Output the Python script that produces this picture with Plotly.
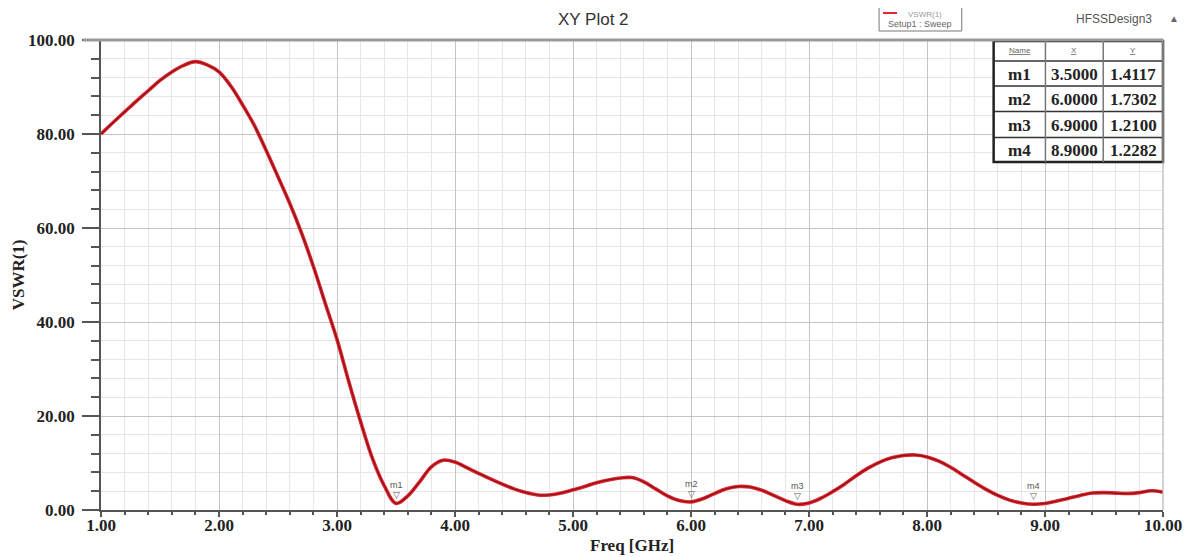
import plotly.graph_objects as go

# ---- data ----
freq = [1.0, 1.1, 1.2, 1.3, 1.4, 1.5, 1.6, 1.7, 1.8, 1.9,
        2.0, 2.1, 2.2, 2.3, 2.4, 2.5, 2.6, 2.7, 2.8, 2.9,
        3.0, 3.1, 3.2, 3.3, 3.4, 3.5, 3.6, 3.7, 3.8, 3.9,
        4.0, 4.1, 4.2, 4.3, 4.4, 4.5, 4.6, 4.7, 4.8, 4.9,
        5.0, 5.1, 5.2, 5.3, 5.4, 5.5, 5.6, 5.7, 5.8, 5.9,
        6.0, 6.1, 6.2, 6.3, 6.4, 6.5, 6.6, 6.7, 6.8, 6.9,
        7.0, 7.1, 7.2, 7.3, 7.4, 7.5, 7.6, 7.7, 7.8, 7.9,
        8.0, 8.1, 8.2, 8.3, 8.4, 8.5, 8.6, 8.7, 8.8, 8.9,
        9.0, 9.1, 9.2, 9.3, 9.4, 9.5, 9.6, 9.7, 9.8, 9.9, 10.0]
vswr = [80.0, 82.4, 84.7, 87.0, 89.2, 91.4, 93.2, 94.6, 95.4, 94.7,
        93.2, 90.2, 86.2, 81.8, 76.5, 70.9, 65.2, 58.9, 51.8, 44.0,
        36.3, 27.3, 18.8, 11.0, 5.2, 1.41, 3.0, 6.0, 9.2, 10.6,
        10.2, 9.0, 7.8, 6.6, 5.5, 4.5, 3.7, 3.2, 3.2, 3.6,
        4.3, 5.0, 5.8, 6.4, 6.8, 6.9, 6.0, 4.5, 3.0, 2.0,
        1.73, 2.4, 3.5, 4.5, 5.0, 4.9, 4.2, 3.1, 2.0, 1.21,
        1.5, 2.5, 3.9, 5.5, 7.3, 8.9, 10.2, 11.1, 11.6, 11.7,
        11.3, 10.4, 9.1, 7.5, 5.9, 4.4, 3.1, 2.1, 1.5, 1.23,
        1.4, 1.9, 2.5, 3.1, 3.6, 3.7, 3.6, 3.5, 3.7, 4.1, 3.8]

m_names = ["m1", "m2", "m3", "m4"]
m_x = [3.5, 6.0, 6.9, 8.9]
m_y = [1.4117, 1.7302, 1.2100, 1.2282]

x_ticks = [1, 2, 3, 4, 5, 6, 7, 8, 9, 10]
y_ticks = [0, 20, 40, 60, 80, 100]

serif = "Liberation Serif, Times New Roman, serif"
sans = "Liberation Sans, Arial, sans-serif"

fig = go.Figure()
fig.add_trace(go.Scatter(x=freq, y=vswr, mode="lines", line=dict(color="#e3262f", width=3.6, shape="spline"),
                         hoverinfo="skip", showlegend=False))
fig.add_trace(go.Scatter(x=freq, y=vswr, mode="lines", line=dict(color="#8a1418", width=1.3, shape="spline"),
                         name="VSWR(1)", showlegend=False))

# marker flags on curve
for n, mx, my in zip(m_names, m_x, m_y):
    fig.add_annotation(x=mx, y=my, text="▽", showarrow=False, yshift=8, xanchor="center", yanchor="middle",
                       font=dict(family=sans, size=9, color="#555"))
    fig.add_annotation(x=mx, y=my, text=n, showarrow=False, yshift=18, xanchor="center", yanchor="middle",
                       font=dict(family=sans, size=9, color="#555"))

# ---- helpers: page pixel -> paper coords (plot area 101..1167 x 40..510) ----
def px2x(px):
    return (px - 101) / 1066.0

def py2y(py):
    return (510 - py) / 470.0

def note(px, py, text, font, **kw):
    fig.add_annotation(xref="paper", yref="paper", x=px2x(px), y=py2y(py), text=text, showarrow=False,
                       xanchor=kw.pop("xanchor", "center"), yanchor=kw.pop("yanchor", "middle"),
                       font=font, **kw)

# ---- marker table ----
tl_px, c1_px, c2_px, tr_px = 997, 1049, 1107, 1167
row_py = [41, 61, 86, 111.5, 137.5, 162]
shapes = []
shapes.append(dict(type="rect", xref="paper", yref="paper", x0=px2x(tl_px), x1=px2x(tr_px),
                   y0=py2y(162), y1=py2y(41), line=dict(color="#222", width=2.5), fillcolor="white", layer="above"))
for py in row_py[1:-1]:
    shapes.append(dict(type="line", xref="paper", yref="paper", x0=px2x(tl_px), x1=px2x(tr_px),
                       y0=py2y(py), y1=py2y(py), line=dict(color="#333", width=1.5), layer="above"))
for cpx in (c1_px, c2_px):
    shapes.append(dict(type="line", xref="paper", yref="paper", x0=px2x(cpx), x1=px2x(cpx),
                       y0=py2y(162), y1=py2y(41), line=dict(color="#777", width=1.5), layer="above"))

headers = ["<u>Name</u>", "<u>X</u>", "<u>Y</u>"]
col_centers = [(tl_px + c1_px) / 2, (c1_px + c2_px) / 2, (c2_px + tr_px) / 2]
for h, cpx in zip(headers, col_centers):
    note(cpx, 51, h, dict(family=sans, size=8, color="#666"))
for i, (n, mx, my) in enumerate(zip(m_names, m_x, m_y)):
    cy = (row_py[i + 1] + row_py[i + 2]) / 2
    for txt, cpx in zip([n, f"{mx:.4f}", f"{my:.4f}"], col_centers):
        note(cpx, cy + 1, f"<b>{txt}</b>", dict(family=serif, size=17, color="#222"))

# top border & right border
shapes.append(dict(type="line", xref="paper", yref="paper", x0=px2x(83), x1=1, y0=1, y1=1,
                   line=dict(color="#9a9a9a", width=3)))
shapes.append(dict(type="line", xref="paper", yref="paper", x0=1, x1=1, y0=0, y1=1,
                   line=dict(color="#b5b5b5", width=1.2)))

# legend box (its top is cut by the page edge)
shapes.append(dict(type="rect", xref="paper", yref="paper", x0=px2x(882), x1=px2x(965), y0=py2y(31), y1=py2y(2),
                   line=dict(color="#777", width=1), fillcolor="white"))
shapes.append(dict(type="line", xref="paper", yref="paper", x0=px2x(886), x1=px2x(900), y0=py2y(13), y1=py2y(13),
                   line=dict(color="#e3262f", width=2)))
note(928, 14, "VSWR(1)", dict(family=sans, size=8, color="#999"))
note(923, 24, "Setup1 : Sweep", dict(family=sans, size=9, color="#666"))

# titles
note(595, 19, "XY Plot 2", dict(family=sans, size=17, color="#333"))
note(1118, 19, "HFSSDesign3", dict(family=sans, size=12, color="#555"))
note(1178, 18, "▲", dict(family=sans, size=10, color="#666"))
note(634, 545, "<b>Freq [GHz]</b>", dict(family=serif, size=17, color="#222"))
note(18, 275, "<b>VSWR(1)</b>", dict(family=serif, size=17, color="#222"), textangle=-90)

# page body has an 8px margin: shrink figure so plot area lands at 101..1167 x 40..510
fig.update_layout(
    width=1186, height=549,
    margin=dict(l=93, r=27, t=32, b=47),
    paper_bgcolor="white", plot_bgcolor="white",
    shapes=shapes, showlegend=False,
    xaxis=dict(range=[1, 10], tickvals=x_ticks, tickformat=".2f",
               showgrid=True, gridcolor="#c4c4c4", gridwidth=1,
               minor=dict(dtick=0.2, showgrid=True, gridcolor="#e6e6e6", ticks="outside", ticklen=3,
                          tickcolor="#555"),
               ticks="outside", ticklen=5, tickcolor="#555", tickwidth=1.5,
               showline=True, linecolor="#555", linewidth=2, zeroline=False,
               tickfont=dict(family=serif, size=17, color="#222", weight="bold"), ticklabelstandoff=-6),
    yaxis=dict(range=[0, 100], tickvals=y_ticks, tickformat=".2f",
               showgrid=True, gridcolor="#c4c4c4", gridwidth=1,
               minor=dict(dtick=4, showgrid=True, gridcolor="#e6e6e6", ticks="outside", ticklen=8,
                          tickcolor="#555"),
               ticks="outside", ticklen=17, tickcolor="#555", tickwidth=1.5,
               showline=True, linecolor="#555", linewidth=1.5, zeroline=False,
               tickfont=dict(family=serif, size=17, color="#222", weight="bold"), ticklabelstandoff=4),
)

fig.write_html("out.html")
